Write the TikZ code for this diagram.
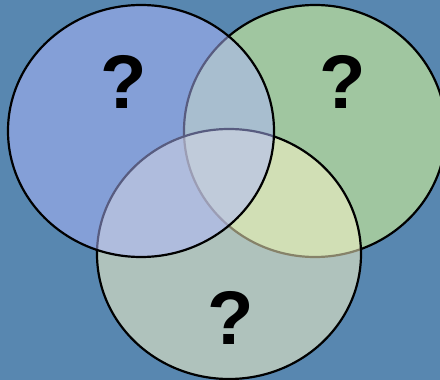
\documentclass[tikz,border=0pt]{standalone}
\usepackage{fontspec}
\setmainfont{Liberation Sans}
\usepackage{tikz}
\usetikzlibrary{positioning}
\definecolor{bgblue}{RGB}{88,135,176}
\definecolor{setblue}{RGB}{176,184,255}
\definecolor{setgreen}{RGB}{208,240,150}
\definecolor{setcream}{RGB}{254,247,200}
\tikzset{
    setline/.style={line width=2.2pt},
    qmark/.style={font=\fontsize{76}{76}\selectfont\bfseries},
}

\begin{document}
\begin{tikzpicture}[x=1pt,y=-1pt]
    \clip (0,0) rectangle (440,380);
    \fill[bgblue] (0,0) rectangle (440,380);
    % sets, back to front
    \draw[setline, fill=setgreen, fill opacity=0.6] (315,131) ellipse [x radius=131, y radius=126];
    \draw[setline, fill=setcream, fill opacity=0.53] (229,254) ellipse [x radius=132, y radius=125];
    \draw[setline, fill=setblue, fill opacity=0.5] (141,131) ellipse [x radius=133, y radius=126];
    \node[qmark] (qa) at (124,82) {?};
    \node[qmark] (qb) at (343,82) {?};
    \node[qmark] (qc) at (231,318) {?};
  \end{tikzpicture}
\end{document}
